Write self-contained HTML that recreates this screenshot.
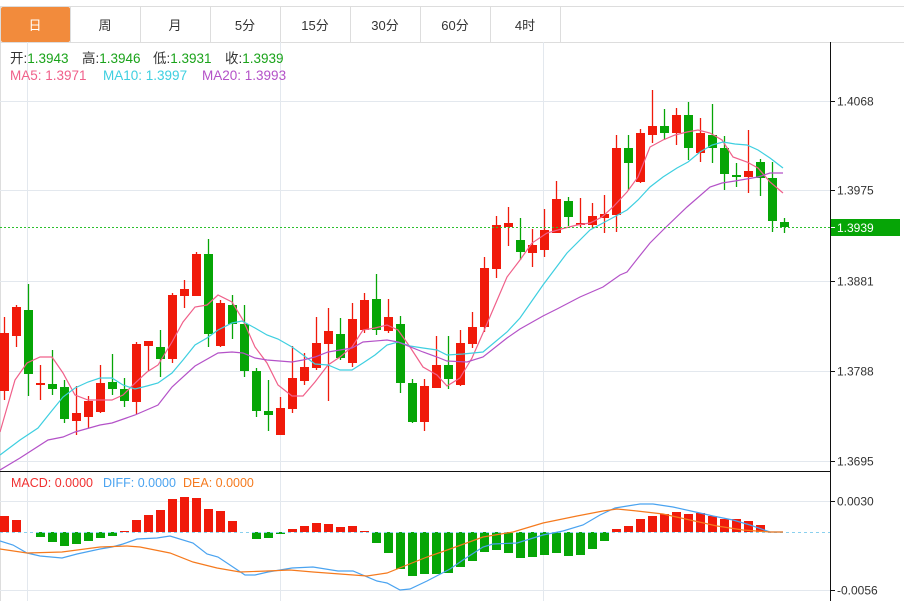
<!DOCTYPE html>
<html><head><meta charset="utf-8"><style>
body{margin:0;background:#fff;width:904px;height:601px;overflow:hidden;font-family:"Liberation Sans","Noto Sans CJK SC",sans-serif;}
svg{position:absolute;left:0;top:0}
</style></head><body>
<svg id="s" width="904" height="601" xmlns="http://www.w3.org/2000/svg" font-family="Liberation Sans, Noto Sans CJK SC, sans-serif"></svg>
<script>
const s=document.getElementById('s');let h='';
h+='<rect x="0" y="0" width="904" height="601" fill="#fff"/>';
h+='<line x1="0" y1="6.5" x2="904" y2="6.5" stroke="#ddd"/><line x1="0" y1="42.5" x2="904" y2="42.5" stroke="#ddd"/>';
const tabs=['日','周','月','5分','15分','30分','60分','4时'];
tabs.forEach((t,i)=>{const x=i*70;
 if(i==0)h+='<rect x="1" y="7" width="69" height="35" rx="2" fill="#f28b3c"/>';
 h+='<line x1="'+(x+70.5)+'" y1="6" x2="'+(x+70.5)+'" y2="42" stroke="#ddd"/>';
 h+='<text x="'+(x+35)+'" y="30" font-size="13" text-anchor="middle" fill="'+(i?'#333':'#fff')+'">'+t+'</text>';});
h+='<line x1="0.5" y1="6" x2="0.5" y2="601" stroke="#ddd"/>';
[101,190,281,371,461,501,590].forEach(y=>h+='<line x1="0" y1="'+(y+.5)+'" x2="830" y2="'+(y+.5)+'" stroke="#e3e8ee"/>');
[27,280,543].forEach(x=>h+='<line x1="'+(x+.5)+'" y1="42" x2="'+(x+.5)+'" y2="601" stroke="#e3e8ee"/>');
h+='<line x1="0" y1="471.5" x2="830" y2="471.5" stroke="#111"/>';
h+='<line x1="830.5" y1="42" x2="830.5" y2="601" stroke="#111"/>';
[[101,'1.4068'],[190,'1.3975'],[281,'1.3881'],[371,'1.3788'],[461,'1.3695'],[501,'0.0030'],[590,'-0.0056']].forEach(([y,t])=>{
 h+='<line x1="831" y1="'+(y+.5)+'" x2="835" y2="'+(y+.5)+'" stroke="#111"/><text x="837" y="'+(y+4.5)+'" font-size="12" fill="#333">'+t+'</text>';});
function tx(x,y,sz,col,lab,val,vc){h+='<text x="'+x+'" y="'+y+'" font-size="'+sz+'" fill="'+col+'">'+lab+'<tspan fill="'+vc+'">'+val+'</tspan></text>';}
const gr='#1aa31a';
tx(10,63,13.5,'#333','开:','1.3943',gr);tx(82,63,13.5,'#333','高:','1.3946',gr);tx(153,63,13.5,'#333','低:','1.3931',gr);tx(225,63,13.5,'#333','收:','1.3939',gr);
tx(10,80,13.5,'#f0608a','MA5: ','1.3971','#f0608a');tx(103,80,13.5,'#3ecfe0','MA10: ','1.3997','#3ecfe0');tx(202,80,13.5,'#b452c8','MA20: ','1.3993','#b452c8');
tx(11,487,12.5,'#f03030','MACD: ','0.0000','#f03030');tx(103,487,12.5,'#4aa3f0','DIFF: ','0.0000','#4aa3f0');tx(183,487,12.5,'#f57a1e','DEA: ','0.0000','#f57a1e');
const C=[[333,391,317,400,'r'],[307,336,305,347,'r'],[310,374,284,396,'g'],[383,385,365,400,'r'],[384,389,350,395,'g'],[387,419,380,423,'g'],[413,421,386,435,'r'],[401,417,396,428,'r'],[383,412,365,413,'r'],[382,389,354,395,'g'],
[389,401,378,407,'g'],[344,402,342,414,'r'],[341,346,341,371,'r'],[347,359,330,377,'g'],[295,359,293,363,'r'],[289,296,280,308,'r'],[254,296,252,296,'r'],[254,334,239,347,'g'],[303,346,300,347,'r'],[305,324,295,339,'g'],
[324,371,305,377,'g'],[371,411,368,417,'g'],[411,415,380,431,'g'],[408,435,397,435,'r'],[378,409,346,413,'r'],[367,381,353,385,'r'],[343,368,317,370,'r'],[331,344,308,401,'r'],[334,358,318,360,'g'],[319,363,303,367,'r'],
[300,330,293,333,'r'],[299,330,274,335,'g'],[317,331,299,333,'r'],[324,383,316,393,'g'],[383,422,379,423,'g'],[386,422,379,431,'r'],[365,388,336,388,'r'],[365,379,336,389,'g'],[343,385,330,386,'r'],[327,344,312,348,'r'],
[268,327,257,332,'r'],[225,269,216,278,'r'],[223,227,207,246,'r'],[240,252,218,260,'g'],[245,253,229,267,'r'],[230,250,209,257,'r'],[199,233,181,233,'r'],[201,217,197,226,'g'],[223,225,198,227,'r'],[216,225,203,228,'r'],
[214,218,195,233,'r'],[148,215,135,232,'r'],[148,163,135,190,'g'],[133,182,129,183,'r'],[126,135,90,143,'r'],[126,133,109,140,'g'],[115,133,108,145,'r'],[115,148,102,160,'g'],[133,153,118,162,'r'],[135,148,104,163,'g'],
[148,174,136,190,'g'],[175,177,163,187,'g'],[171,177,130,193,'r'],[162,178,159,196,'g'],[178,221,162,232,'g'],[222,227,218,233,'g']];
const R='#f01a0a',G='#06a506';
C.forEach((c,i)=>{const x=4+12*i,col=c[4]=='r'?R:G;
 h+='<line x1="'+(x+.5)+'" y1="'+c[2]+'" x2="'+(x+.5)+'" y2="'+c[3]+'" stroke="'+col+'" stroke-width="1.3"/>';
 h+='<rect x="'+(x-4)+'" y="'+c[0]+'" width="9" height="'+Math.max(2,c[1]-c[0])+'" fill="'+col+'"/>';});
function pl(p,col,w){h+='<polyline fill="none" stroke="'+col+'" stroke-width="'+(w||1.2)+'" points="'+p+'"/>';}
pl('0,432 15,380 27,363 40,357 52,357 63,373 75,395 88,400 100,400 112,400 123,395 133,385 147,372 158,365 172,342 183,322 195,307 207,305 218,295 232,302 243,320 255,347 267,363 278,385 292,396 303,396 315,382 328,365 340,357 352,347 363,330 375,328 387,325 398,330 410,347 423,367 437,375 447,386 460,378 472,358 483,333 495,305 507,277 520,260 532,243 547,233 565,228 577,225 590,223 602,217 613,207 627,192 638,177 650,147 663,140 675,135 687,132 698,130 710,133 722,140 733,157 747,162 758,168 770,182 783,193','#f0608a');
pl('0,455 20,440 38,428 50,413 63,397 75,388 88,382 100,378 112,378 123,385 135,389 147,386 158,383 172,373 183,360 195,345 207,338 218,330 232,323 242,321 255,328 267,335 278,339 292,347 303,355 315,364 328,365 340,370 352,370 363,363 375,355 387,345 398,342 410,346 423,348 437,350 447,355 463,354 483,352 507,332 520,318 543,285 567,253 590,230 603,223 627,210 638,200 650,187 663,177 677,168 688,162 700,152 712,145 723,142 735,144 747,145 758,150 770,158 783,168','#3ecfe0');
pl('0,470 20,458 48,440 63,437 75,432 100,425 112,423 135,415 158,405 172,387 195,366 218,353 232,352 243,353 255,358 267,360 292,362 303,360 315,357 328,352 352,348 363,342 387,340 398,342 423,352 437,357 447,361 467,362 483,357 507,338 520,329 543,316 557,309 580,297 603,287 620,275 627,272 638,258 650,243 663,230 687,207 710,187 722,183 735,181 758,177 770,173 783,173','#b452c8');
h+='<line x1="0" y1="227.5" x2="830" y2="227.5" stroke="#2cc02c" stroke-dasharray="2,2"/>';
h+='<rect x="831" y="219" width="69" height="17" fill="#06a506"/><line x1="831" y1="227.5" x2="835" y2="227.5" stroke="#fff"/><text x="837" y="232" font-size="12" fill="#fff">1.3939</text>';
const M=[516,520,532,537,542,546,544,541,538,536,531,520,515,510,499,497,498,509,511,521,532,539,538,534,529,526,523,524,527,526,531,543,553,569,576,574,574,573,567,561,552,550,553,558,557,555,553,556,555,549,541,529,526,519,516,514,512,514,513,516,519,519,521,525,532,532];
M.forEach((v,i)=>{const x=4+12*i;if(Math.abs(v-532)<1)return;
 const col=v<532?R:G;h+='<rect x="'+(x-4)+'" y="'+Math.min(v,532)+'" width="9" height="'+Math.abs(v-532)+'" fill="'+col+'"/>';});
h+='<line x1="0" y1="532.5" x2="830" y2="532.5" stroke="#8ad0ee" stroke-dasharray="3,3"/>';
pl('0,541 13,545 27,553 40,556 62,558 77,554 100,549 112,547 123,544 137,539 157,538 170,536 193,543 207,554 218,557 245,575 255,575 268,572 292,568 313,567 338,571 353,571 377,581 387,583 400,590 410,589 427,581 450,569 463,560 483,547 493,544 517,543 543,535 563,531 583,525 600,515 615,508 640,504 653,504 673,507 700,513 713,516 733,520 750,525 770,532 783,532','#4aa3f0');
pl('0,549 27,553 62,552 100,547 127,546 140,547 170,553 193,562 217,568 240,572 267,571 290,570 313,572 340,574 367,576 387,573 407,565 427,557 450,549 483,537 513,532 543,523 577,516 603,511 617,509 637,511 663,514 690,520 717,526 743,530 770,532 783,532','#f57a1e');
s.innerHTML=h;
</script>
</body></html>
